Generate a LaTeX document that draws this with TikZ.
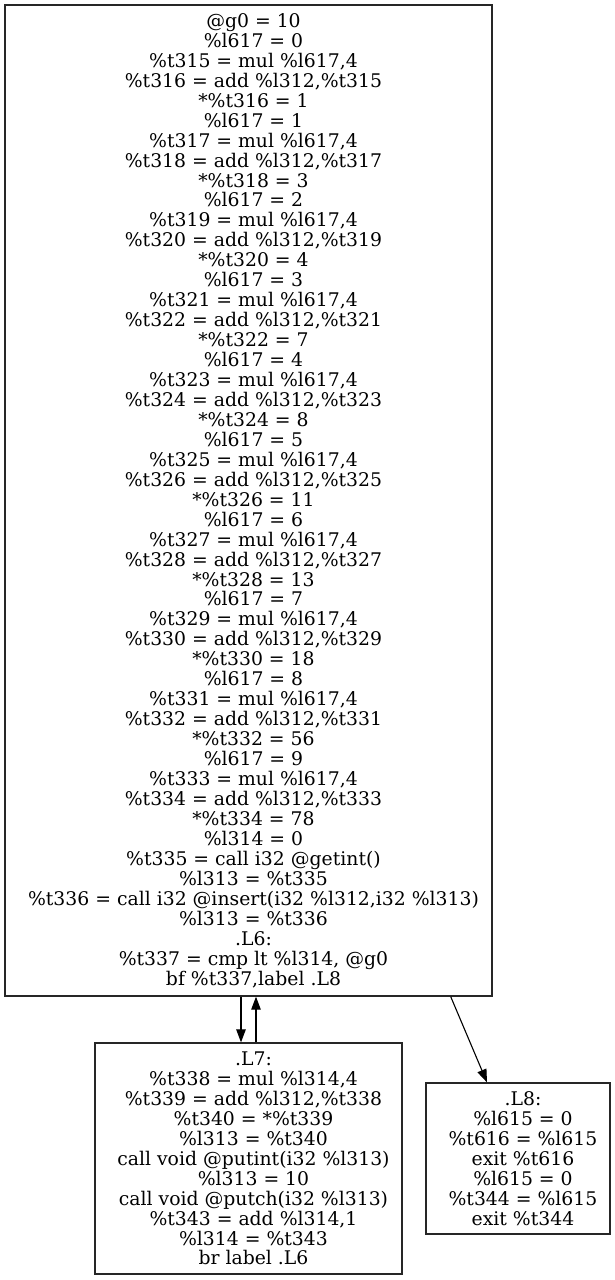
\documentclass[tikz,border=0pt]{standalone}
\usepackage{fontspec}
\setmainfont{DejaVu Serif}
\usetikzlibrary{arrows.meta,calc}
\tikzset{
  boxst/.style={draw=black!85, line width=1.3pt, rectangle, inner sep=0pt},
  txt/.style={inner sep=0pt, align=center, font=\fontsize{18.8}{19.95}\selectfont},
  arr/.style={draw=black, line width=1.1pt, -{Triangle[length=13pt,width=9.5pt]}}
}
\begin{document}
\begin{tikzpicture}[x=1pt,y=-1pt]
\useasboundingbox (0,0) rectangle (615,1280);
\node[boxst, minimum width=487pt, minimum height=991pt] (big) at (248.5,500.5) {};
\node[boxst, minimum width=307pt, minimum height=231pt] (l7) at (248.5,1158.5) {};
\node[boxst, minimum width=184pt, minimum height=151pt] (l8) at (518,1158.5) {};
\node[txt] (bigt) at ($(big.center)+(5,0)$) {%
@g0 = 10\\
\%l617 = 0\\
\%t315 = mul \%l617,4\\
\%t316 = add \%l312,\%t315\\
*\%t316 = 1\\
\%l617 = 1\\
\%t317 = mul \%l617,4\\
\%t318 = add \%l312,\%t317\\
*\%t318 = 3\\
\%l617 = 2\\
\%t319 = mul \%l617,4\\
\%t320 = add \%l312,\%t319\\
*\%t320 = 4\\
\%l617 = 3\\
\%t321 = mul \%l617,4\\
\%t322 = add \%l312,\%t321\\
*\%t322 = 7\\
\%l617 = 4\\
\%t323 = mul \%l617,4\\
\%t324 = add \%l312,\%t323\\
*\%t324 = 8\\
\%l617 = 5\\
\%t325 = mul \%l617,4\\
\%t326 = add \%l312,\%t325\\
*\%t326 = 11\\
\%l617 = 6\\
\%t327 = mul \%l617,4\\
\%t328 = add \%l312,\%t327\\
*\%t328 = 13\\
\%l617 = 7\\
\%t329 = mul \%l617,4\\
\%t330 = add \%l312,\%t329\\
*\%t330 = 18\\
\%l617 = 8\\
\%t331 = mul \%l617,4\\
\%t332 = add \%l312,\%t331\\
*\%t332 = 56\\
\%l617 = 9\\
\%t333 = mul \%l617,4\\
\%t334 = add \%l312,\%t333\\
*\%t334 = 78\\
\%l314 = 0\\
\%t335 = call i32 @getint()\\
\%l313 = \%t335\\
\%t336 = call i32 @insert(i32 \%l312,i32 \%l313)\\
\%l313 = \%t336\\
.L6:\\
\%t337 = cmp lt \%l314, @g0\\
bf \%t337,label .L8};
\node[txt] (l7t) at ($(l7.center)+(5,0)$) {%
.L7:\\
\%t338 = mul \%l314,4\\
\%t339 = add \%l312,\%t338\\
\%t340 = *\%t339\\
\%l313 = \%t340\\
call void @putint(i32 \%l313)\\
\%l313 = 10\\
call void @putch(i32 \%l313)\\
\%t343 = add \%l314,1\\
\%l314 = \%t343\\
br label .L6};
\node[txt] (l8t) at ($(l8.center)+(5,0)$) {%
.L8:\\
\%l615 = 0\\
\%t616 = \%l615\\
exit \%t616\\
\%l615 = 0\\
\%t344 = \%l615\\
exit \%t344};
\draw[arr] ($(big.south)+(-7.5,0)$) -- ($(l7.north)+(-7.5,0)$);
\draw[arr] ($(l7.north)+(7.5,0)$) -- ($(big.south)+(7.5,0)$);
\draw[arr] (big) -- (l8);
\end{tikzpicture}
\end{document}
